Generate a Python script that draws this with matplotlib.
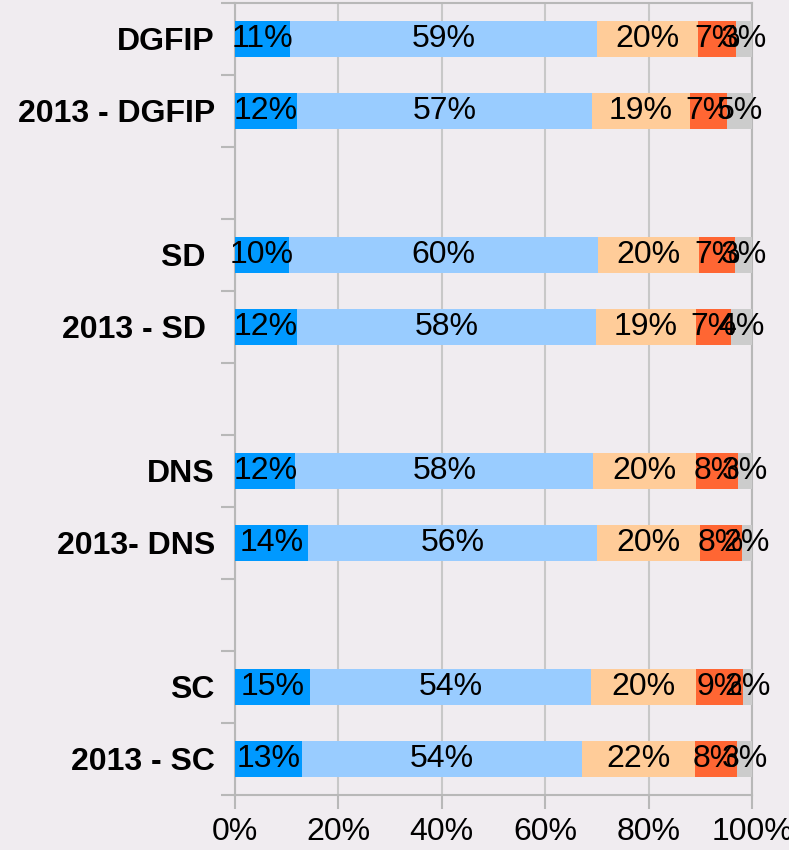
import matplotlib
matplotlib.use("Agg")
import matplotlib.pyplot as plt
import numpy as np

plt.rcParams['font.family'] = ['Liberation Sans', 'DejaVu Sans']

categories = ["DGFIP", "2013 - DGFIP", "", "SD ", "2013 - SD ", "",
              "DNS", "2013- DNS", "", "SC", "2013 - SC"]
s1 = [10.6, 12.0, None, 10.4, 11.9, None, 11.7, 14.1, None, 14.6, 12.9]
s2 = [59.4, 57.1, None, 59.8, 58.0, None, 57.6, 55.9, None, 54.2, 54.2]
s3 = [19.6, 18.9, None, 19.6, 19.2, None, 19.9, 19.9, None, 20.4, 21.8]
s4 = [7.3, 7.2, None, 7.0, 6.9, None, 8.1, 8.1, None, 9.1, 8.2]
s5 = [3.1, 4.8, None, 3.2, 4.0, None, 2.7, 2.0, None, 1.7, 2.9]
series = [s1, s2, s3, s4, s5]
colors = ["#0099FF", "#99CCFF", "#FFCC99", "#FF6633", "#CCCCCC"]
xticks = [0, 20, 40, 60, 80, 100]
xticklabels = ["0%", "20%", "40%", "60%", "80%", "100%"]

bg = "#F0ECF0"
fig = plt.figure(figsize=(7.89, 8.5), dpi=100, facecolor=bg)
ax = fig.add_axes([235/789, 1-795/850, (752-235)/789, (795-3)/850])
ax.set_facecolor(bg)

n = len(categories)
y = np.arange(n)
left = np.zeros(n)
for vals, c in zip(series, colors):
    v = np.array([0 if x is None else x for x in vals], dtype=float)
    mask = np.array([x is not None for x in vals])
    ax.barh(y[mask], v[mask], left=left[mask], height=0.51, color=c, zorder=3)
    for yi, vi, li in zip(y[mask], v[mask], left[mask]):
        ax.text(li + vi/2, yi, f"{vi:.0f}%", ha="center", va="center",
                fontsize=23, color="black", zorder=5)
    left = left + v

ax.set_xlim(0, 100)
ax.set_ylim(n - 0.5, -0.5)
ax.set_xticks(xticks)
ax.set_xticklabels(xticklabels, fontsize=23)
ax.set_yticks(y)
ax.set_yticklabels(categories, fontsize=23, fontweight="bold")
ax.set_yticks(np.arange(-0.5, n, 1), minor=True)
ax.tick_params(axis="y", which="major", length=0, pad=14.5)
ax.tick_params(axis="y", which="minor", length=10, color="#B8B8B8", width=1.5)
ax.tick_params(axis="x", which="major", length=10, color="#B8B8B8", width=1.5, pad=6)
ax.grid(axis="x", color="#C8C8C8", linewidth=1.5, zorder=0)
for sp in ax.spines.values():
    sp.set_color("#B8B8B8")
    sp.set_linewidth(1.5)

fig.savefig("out.png", dpi=100, facecolor=bg)
